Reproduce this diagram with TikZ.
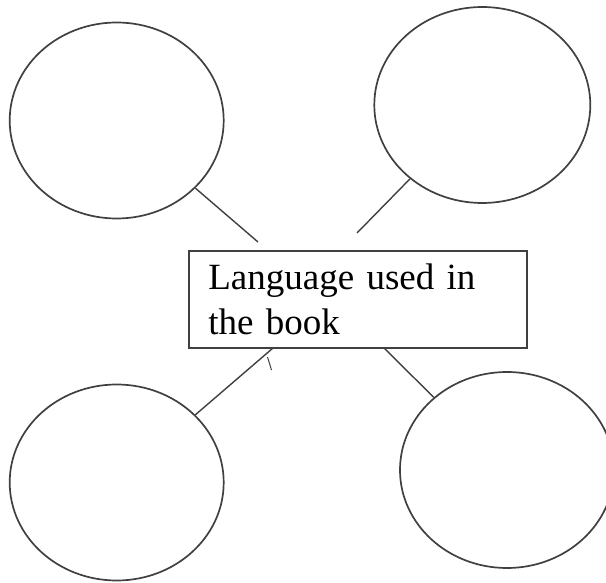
\documentclass[tikz,border=0pt]{standalone}
\usepackage{fontspec}
\setmainfont{Liberation Serif}
\usetikzlibrary{shapes.geometric}

\begin{document}
\begin{tikzpicture}[x=1pt, y=-1pt,
    bubble/.style={draw=black!75, line width=1.7pt, ellipse, minimum width=214pt, minimum height=196pt, inner sep=0pt},
    topic/.style={draw=black!75, line width=1.7pt, rectangle, minimum width=338pt, minimum height=97pt, inner xsep=19pt, text width=300pt, align=left, font=\fontsize{37}{45}\selectfont},
    spoke/.style={draw=black!75, line width=1.4pt}]
    \useasboundingbox (0,0) rectangle (606,583);

    % Centre box
    \node[topic] (lang) at (358.3,299.3) {Language used in\\the book};

    % Four empty circles
    \node[bubble] (tl) at (116.7,120.5) {};
    \node[bubble, minimum width=216pt] (tr) at (482.3,105) {};
    \node[bubble] (bl) at (116.7,482.5) {};
    \node[bubble] (br) at (507,470) {};

    % Loose ends of the spokes
    \coordinate (tlend) at (258,242);
    \coordinate (trend) at (357,233);
    \coordinate (blend) at (273,348);
    \coordinate (brend) at (384,348);
    \coordinate (ticka) at (267.5,357);
    \coordinate (tickb) at (271.5,370);

    % Spokes
    \draw[spoke] (tl) -- (tlend);
    \draw[spoke] (tr) -- (trend);
    \draw[spoke] (bl) -- (blend);
    \draw[spoke] (brend) -- (br);
    \draw[spoke, line width=1pt] (ticka) -- (tickb);
\end{tikzpicture}
\end{document}
